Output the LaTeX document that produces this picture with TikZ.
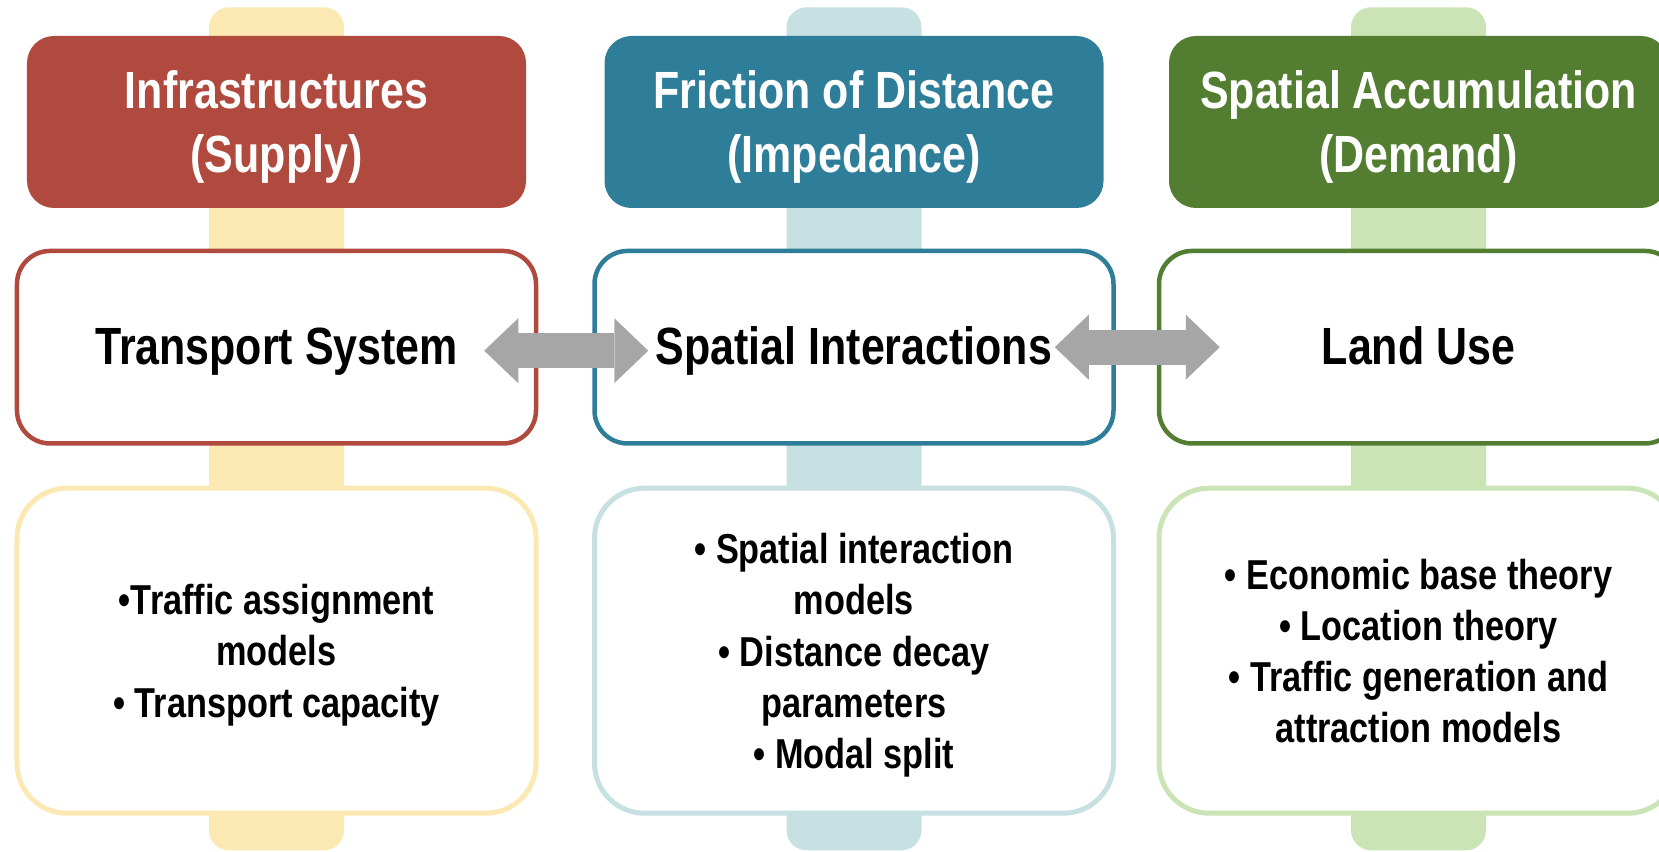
\documentclass[tikz,border=0pt]{standalone}
\usepackage{fontspec}
\newfontfamily\narrowsans[FakeStretch=0.82]{Liberation Sans}
\usepackage{xcolor}
\usepackage{tikz}
\usetikzlibrary{arrows.meta, positioning, calc, backgrounds}

\definecolor{supplyred}{RGB}{176,74,62}
\definecolor{impedteal}{RGB}{46,126,154}
\definecolor{demandgreen}{RGB}{83,126,49}
\definecolor{supplylight}{RGB}{252,232,178}
\definecolor{impedlight}{RGB}{199,224,225}
\definecolor{demandlight}{RGB}{203,228,181}
\definecolor{linkgray}{RGB}{166,166,166}

\begin{document}
\begin{tikzpicture}[
    head/.style={rounded corners=0.27cm, minimum width=4.99cm, minimum height=1.72cm, align=center, inner sep=0pt, text height=1.16cm, text depth=0.15cm, text=white, font=\narrowsans\bfseries\fontsize{14.9}{18.2}\selectfont},
    core/.style={draw, line width=0.045cm, fill=white, rounded corners=0.33cm, minimum width=5.19cm, minimum height=1.925cm, align=center, inner sep=0pt, text height=0.52cm, text depth=0.18cm, font=\narrowsans\bfseries\fontsize{14.9}{18}\selectfont},
    topics/.style={draw, line width=0.05cm, fill=white, rounded corners=0.5cm, minimum width=5.19cm, minimum height=3.25cm, align=center, inner sep=0pt, text depth=0.12cm, font=\narrowsans\bfseries\fontsize{11.9}{14.6}\selectfont},
    bar/.style={rounded corners=0.2cm},
    link/.style={line width=0.35cm, draw=linkgray, {Triangle[length=0.34cm, width=0.65cm, line width=0pt]}-{Triangle[length=0.34cm, width=0.65cm, line width=0pt]}},
    node distance=0.4cm,
]
\useasboundingbox (0,0) rectangle (16.59,8.51);

% Supply column
\node[head, fill=supplyred] (supply) at (2.765, 7.29) {Infrastructures\\(Supply)};
\node[core, draw=supplyred, below=of supply] (transport) {Transport System};
\node[topics, draw=supplylight, text height=1.45cm, below=of transport] (supplytopics) {%
    \textbullet Traffic assignment\\models\\\textbullet{} Transport capacity};

% Impedance column
\node[head, fill=impedteal] (friction) at (8.54, 7.29) {Friction of Distance\\(Impedance)};
\node[core, draw=impedteal, below=of friction] (interact) {Spatial Interactions};
\node[topics, draw=impedlight, text height=2.48cm, below=of interact] (impedtopics) {%
    \textbullet{} Spatial interaction\\models\\\textbullet{} Distance decay\\parameters\\\textbullet{} Modal split};

% Demand column
\node[head, fill=demandgreen] (demand) at (14.185, 7.29) {Spatial Accumulation\\(Demand)};
\node[core, draw=demandgreen, below=of demand] (landuse) {Land Use};
\node[topics, draw=demandlight, text height=1.965cm, below=of landuse] (demandtopics) {%
    \textbullet{} Economic base theory\\\textbullet{} Location theory\\\textbullet{} Traffic generation and\\attraction models};

% Bars behind the columns
\begin{scope}[on background layer]
\fill[bar, supplylight] ($(supply.north)+(-0.675,0.28)$) rectangle ($(supply.north)+(0.675,-8.15)$);
\fill[bar, impedlight] ($(friction.north)+(-0.675,0.28)$) rectangle ($(friction.north)+(0.675,-8.15)$);
\fill[bar, demandlight] ($(demand.north)+(-0.675,0.28)$) rectangle ($(demand.north)+(0.675,-8.15)$);
\end{scope}

% Links
\draw[link] ($(transport.east)+(-0.54,-0.035)$) -- ($(interact.west)+(0.56,-0.035)$);
\draw[link] ($(interact.east)+(-0.61,0)$) -- ($(landuse.west)+(0.63,0)$);

\end{tikzpicture}
\end{document}
